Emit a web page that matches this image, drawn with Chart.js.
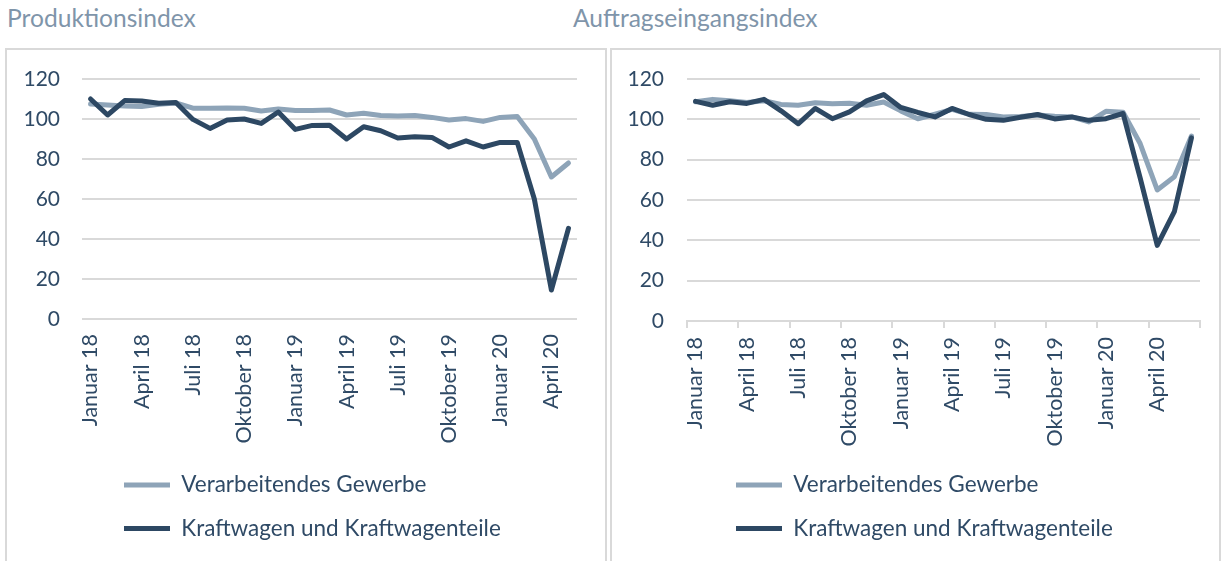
<!DOCTYPE html>
<html><head><meta charset="utf-8">
<script src="https://cdn.jsdelivr.net/npm/chart.js@4.4.1/dist/chart.umd.min.js"></script>
<style>
html,body{margin:0;padding:0;background:#fff;overflow:hidden;width:1221px;height:561px;position:relative;}
.title{position:absolute;top:3px;font-family:Lato,sans-serif;font-size:24.6px;color:#7F95AA;white-space:nowrap;}
.panel{position:absolute;top:48px;border:2px solid #D9D9D9;box-sizing:border-box;}
canvas{position:absolute;display:block;}
</style></head><body>
<div class="title" style="left:7px">Produktionsindex</div>
<div class="title" style="left:573px">Auftragseingangsindex</div>
<div class="panel" style="left:5px;width:602px;height:540px"></div>
<div class="panel" style="left:610px;width:611px;height:540px"></div>
<canvas id="c1" width="600" height="512" style="left:6px;top:49px"></canvas>
<canvas id="c2" width="608" height="512" style="left:611px;top:49px"></canvas>
<script>
const seriesNames = ["Verarbeitendes Gewerbe", "Kraftwagen und Kraftwagenteile"];

const prodCategories = ["Januar 18","Februar 18","März 18","April 18","Mai 18","Juni 18","Juli 18","August 18","September 18","Oktober 18","November 18","Dezember 18",
  "Januar 19","Februar 19","März 19","April 19","Mai 19","Juni 19","Juli 19","August 19","September 19","Oktober 19","November 19","Dezember 19",
  "Januar 20","Februar 20","März 20","April 20","Mai 20"];
const prodManufacturing = [107.5,107,106.5,106.2,107.4,108,105.4,105.4,105.5,105.4,104,105,104.3,104.3,104.5,102,102.9,101.7,101.5,101.7,100.8,99.5,100.2,98.8,100.8,101.3,90,71,78];
const prodAutomotive = [110,102,109.2,109,107.9,108.3,99.8,95.3,99.5,100,97.8,103.5,94.8,96.8,96.9,90,96.1,94.1,90.5,91.1,90.8,86,89.1,86,88.3,88.3,60,14.5,45.3];

const orderCategories = ["Januar 18","Februar 18","März 18","April 18","Mai 18","Juni 18","Juli 18","August 18","September 18","Oktober 18","November 18","Dezember 18",
  "Januar 19","Februar 19","März 19","April 19","Mai 19","Juni 19","Juli 19","August 19","September 19","Oktober 19","November 19","Dezember 19",
  "Januar 20","Februar 20","März 20","April 20","Mai 20","Juni 20"];
const orderManufacturing = [108.7,109.9,109.2,108.4,109.2,107.4,107,108.2,107.7,108,107,108.6,104.2,100.3,102.5,104.9,102.5,102.4,101.2,101.4,102.2,101.5,101.2,98.7,104,103.5,88,65,71.5,91.7];
const orderAutomotive = [108.9,107,108.7,107.9,109.9,104.2,97.8,105.4,100.3,103.7,109.2,112.3,105.9,103.4,101.2,105.4,102.4,100,99.5,101,102.4,100.2,101.2,99.5,100.3,102.9,71,37.5,54.2,90.8];

const yTicks = [0,20,40,60,80,100,120];

const LIGHT = '#8EA4B8', DARK = '#2D4863', TEXT = '#2F4A66', GRID = '#D9D9D9';
const FONT = 'Lato';
const LEG_F = 22.5, LEG_BOX = 46, LEG_PAD = 21;

function legendMover(x, y) {
  return {
    id: 'legendMover',
    afterLayout(chart) {
      const lg = chart.legend; if (!lg) return;
      const w = lg.width;
      lg.left = x - LEG_PAD; lg.right = lg.left + w + 60;
      lg.top = y - LEG_PAD - LEG_F / 2; lg.bottom = lg.top + 200;
      lg.width = lg.right - lg.left; lg.height = 200;
    }
  };
}

function makeChart(id, cats, light, dark, cfg) {
  return new Chart(document.getElementById(id), {
    type: 'line',
    data: {
      labels: cats,
      datasets: [
        {label: seriesNames[0], data: light, borderColor: LIGHT, backgroundColor: LIGHT, borderWidth: 5,
         pointRadius: 0, borderJoinStyle: 'round', borderCapStyle: 'round', tension: 0, order: 1},
        {label: seriesNames[1], data: dark, borderColor: DARK, backgroundColor: DARK, borderWidth: 5,
         pointRadius: 0, borderJoinStyle: 'round', borderCapStyle: 'round', tension: 0, order: 0}
      ]
    },
    options: {
      responsive: false, animation: false, events: [],
      layout: {padding: {top: 30, right: cfg.right, left: 0, bottom: 0}},
      plugins: {
        tooltip: {enabled: false},
        title: {display: false},
        legend: {
          position: 'chartArea', align: 'start',
          labels: {
            font: {family: FONT, size: LEG_F}, color: TEXT, usePointStyle: true, pointStyle: 'line',
            pointStyleWidth: LEG_BOX, boxWidth: LEG_BOX, boxHeight: LEG_F, padding: LEG_PAD,
            sort: (a, b) => a.datasetIndex - b.datasetIndex
          }
        }
      },
      scales: {
        x: {
          type: 'category', offset: true,
          grid: cfg.xgrid,
          border: cfg.xborder,
          ticks: {
            autoSkip: false, minRotation: 90, maxRotation: 90, padding: cfg.xpad,
            font: {family: FONT, size: 21.5}, color: TEXT,
            callback: function(v, i) { return i % 3 === 0 ? this.getLabelForValue(v) : ''; }
          },
          afterFit: s => { s.height = cfg.xh; s.paddingLeft = 0; s.paddingRight = 0; }
        },
        y: {
          min: 0, max: 120,
          afterBuildTicks: s => { s.ticks = yTicks.map(v => ({value: v})); },
          grid: {color: GRID, lineWidth: 2, drawTicks: false},
          border: {display: false},
          ticks: {padding: cfg.ypad, font: {family: FONT, size: 21}, color: TEXT},
          afterFit: s => { s.width = 76; s.paddingTop = 0; s.paddingBottom = 0; }
        }
      }
    },
    plugins: [legendMover(cfg.legX, cfg.legY)]
  });
}

makeChart('c1', prodCategories, prodManufacturing, prodAutomotive, {
  right: 29, xh: 242, xpad: 15, ypad: 22,
  xgrid: {display: false, drawTicks: false},
  xborder: {display: false},
  legX: 118, legY: 436
});

makeChart('c2', orderCategories, orderManufacturing, orderAutomotive, {
  right: 19, xh: 240, xpad: 9, ypad: 23,
  xgrid: {display: true, drawOnChartArea: false, offset: true, tickLength: 7, lineWidth: 2,
          color: c => (c.type === 'tick' ? (c.index % 3 === 0 ? GRID : 'rgba(0,0,0,0)') : GRID)},
  xborder: {display: true, color: GRID, width: 2},
  legX: 125, legY: 436
});
</script>
</body></html>
